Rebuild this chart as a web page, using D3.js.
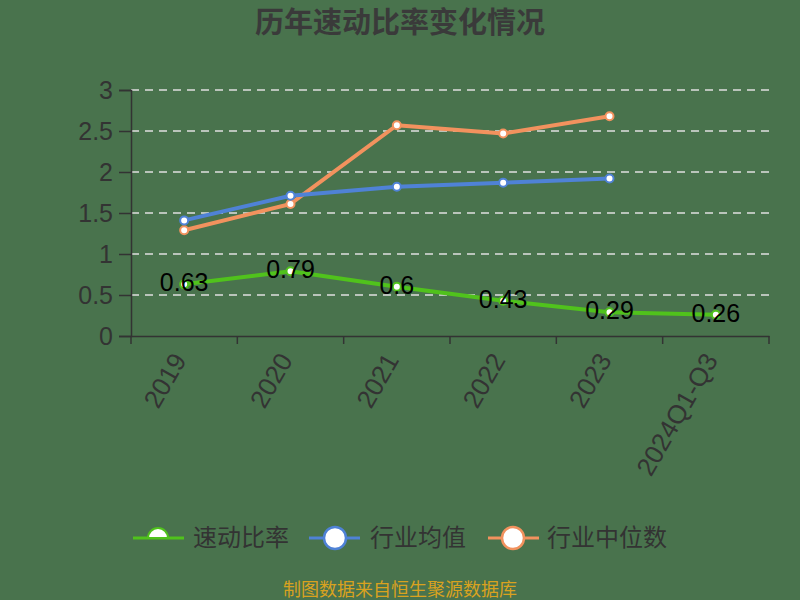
<!DOCTYPE html>
<html><head><meta charset="utf-8">
<script src="https://cdn.jsdelivr.net/npm/d3@7"></script>
<style>body{margin:0;background:#49734d;}svg{display:block;}</style>
</head><body>
<script>
const categories = ["2019","2020","2021","2022","2023","2024Q1-Q3"];
const quickRatio = [0.63,0.79,0.6,0.43,0.29,0.26];
const industryAvg = [1.41,1.71,1.82,1.87,1.92,null];
const industryMedian = [1.29,1.61,2.57,2.47,2.68,null];
const yTicks = [0,0.5,1,1.5,2,2.5,3];
const seriesNames = ["速动比率","行业均值","行业中位数"];
const colors = ["#50c21c","#4f82d6","#f2925e"];

const W=800,H=600;
const svg=d3.select("body").append("svg").attr("width",W).attr("height",H);
svg.append("rect").attr("width",W).attr("height",H).attr("fill","#49734d");
const font='"Liberation Sans","Noto Sans CJK SC",sans-serif';
const cjk='"Noto Sans CJK SC",sans-serif';

const x=d3.scaleBand().domain(categories).range([131,769]);
const y=d3.scaleLinear().domain([0,3]).range([336,90]);

svg.append("text").attr("x",400).attr("y",33).attr("text-anchor","middle")
 .attr("font-family",cjk).attr("font-weight","bold").attr("font-size",29).attr("fill","#3a3a3a")
 .text("历年速动比率变化情况");

// grid
svg.append("g").selectAll("line").data(yTicks.filter(d=>d>0)).join("line")
 .attr("x1",131).attr("x2",769).attr("y1",d=>y(d)).attr("y2",d=>y(d))
 .attr("stroke","#e0e0e0").attr("stroke-width",1.5).attr("stroke-dasharray","8,6");

// y axis
const ya=svg.append("g").attr("transform","translate(131,0)")
 .call(d3.axisLeft(y).tickValues(yTicks).tickFormat(d=>String(d)).tickSize(12));
ya.select(".domain").attr("stroke","#333").attr("stroke-width",1.5);
ya.selectAll(".tick line").attr("stroke","#333").attr("stroke-width",1.5);
ya.selectAll("text").attr("font-family",font).attr("font-size",25).attr("fill","#333").attr("x",-18);

// x axis
const xa=svg.append("g").attr("transform","translate(0,336)")
 .call(d3.axisBottom(x).tickSize(8).tickSizeOuter(0));
xa.select(".domain").attr("stroke","#333").attr("stroke-width",1.5);
xa.selectAll(".tick line").attr("stroke","#333").attr("stroke-width",1.5)
 .attr("x1",-x.bandwidth()/2).attr("x2",-x.bandwidth()/2);
xa.append("line").attr("x1",769).attr("x2",769).attr("y1",0).attr("y2",8).attr("stroke","#333").attr("stroke-width",1.5);
xa.selectAll(".tick text").attr("font-family",font).attr("font-size",26).attr("fill","#333")
 .attr("text-anchor","end").attr("dy",null).attr("y",0)
 .attr("transform","translate(3,24) rotate(-60)");

const cx=(d,i)=>x(categories[i])+x.bandwidth()/2;
const series=[quickRatio,industryAvg,industryMedian];
const line=d3.line().defined(d=>d!=null).x((d,i)=>cx(d,i)).y(d=>y(d));
[2,1,0].forEach(k=>{
  svg.append("path").datum(series[k]).attr("d",line).attr("fill","none")
   .attr("stroke",colors[k]).attr("stroke-width",4).attr("stroke-linejoin","round");
  svg.append("g").selectAll("circle").data(series[k].map((v,i)=>({v,i})).filter(d=>d.v!=null)).join("circle")
   .attr("cx",d=>cx(null,d.i)).attr("cy",d=>y(d.v)).attr("r",4)
   .attr("fill","#fff").attr("stroke",colors[k]).attr("stroke-width",2);
});
svg.append("g").selectAll("text").data(quickRatio).join("text")
 .attr("x",(d,i)=>cx(d,i)).attr("y",d=>y(d)+7).attr("text-anchor","middle")
 .attr("font-family",font).attr("font-size",25).attr("fill","#000").text(d=>String(d));

// legend
const leg=[{lx:133,cx:158,tx:193},{lx:309,cx:335,tx:370},{lx:488,cx:513,tx:547}];
leg.forEach((l,k)=>{
  const g=svg.append("g");
  g.append("line").attr("x1",l.lx).attr("x2",l.lx+51).attr("y1",538).attr("y2",538)
   .attr("stroke",colors[k]).attr("stroke-width",3);
  if(k===0){
    g.append("path").attr("d",d3.arc()({innerRadius:0,outerRadius:10,startAngle:-Math.PI/2,endAngle:Math.PI/2}))
     .attr("transform",`translate(${l.cx},538)`).attr("fill","#fff").attr("stroke",colors[k]).attr("stroke-width",2);
  } else {
    g.append("circle").attr("cx",l.cx).attr("cy",538).attr("r",11).attr("fill","#fff")
     .attr("stroke",colors[k]).attr("stroke-width",2.5);
  }
  g.append("text").attr("x",l.tx).attr("y",546).attr("font-family",cjk).attr("font-size",24)
   .attr("fill","#333").text(seriesNames[k]);
});

svg.append("text").attr("x",400).attr("y",596).attr("text-anchor","middle")
 .attr("font-family",cjk).attr("font-size",18).attr("fill","#d9a21f").text("制图数据来自恒生聚源数据库");
</script>
</body></html>
